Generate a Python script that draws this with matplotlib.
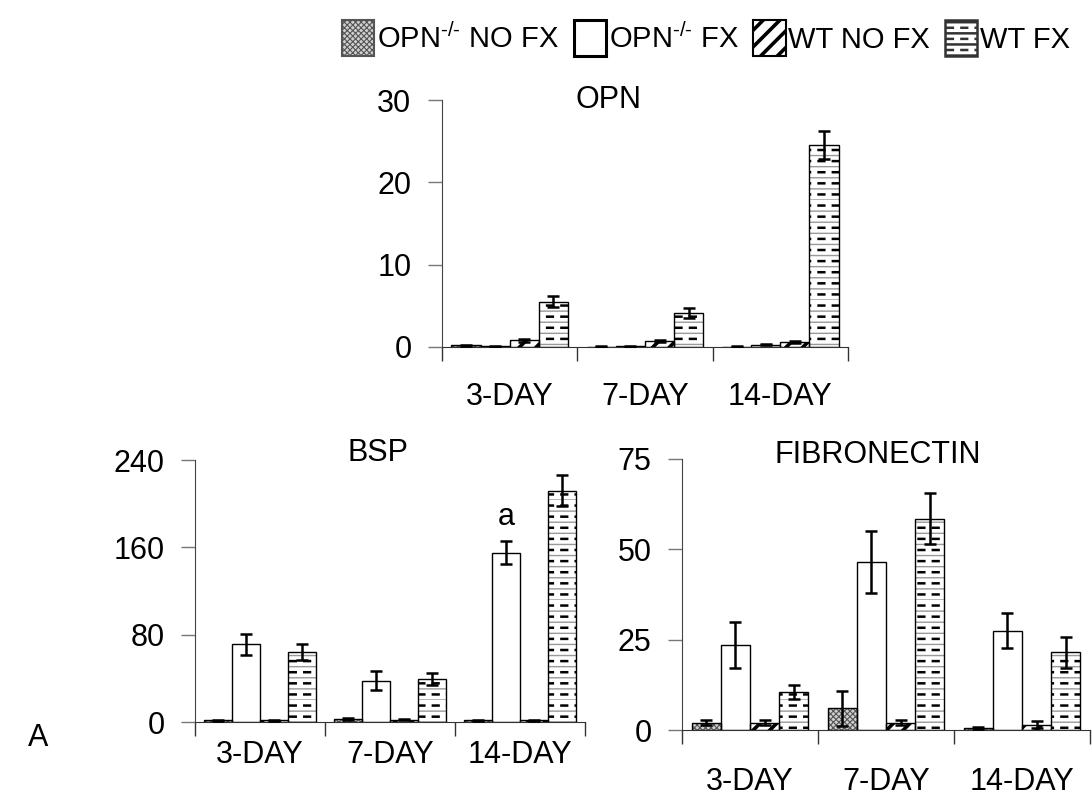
import matplotlib
matplotlib.use("Agg")
import matplotlib.pyplot as plt
import matplotlib.hatch as mhatch
import numpy as np
from matplotlib.patches import Patch, Rectangle
from matplotlib.legend_handler import HandlerPatch
from matplotlib.path import Path

plt.rcParams['font.family'] = ['Liberation Sans', 'DejaVu Sans']
plt.rcParams['mathtext.fontset'] = 'custom'
plt.rcParams['mathtext.rm'] = 'Liberation Sans'
plt.rcParams['hatch.linewidth'] = 1.0

days = ["3-DAY", "7-DAY", "14-DAY"]
groups = ["OPN$^{\\text{-/-}}$ NO FX", "OPN$^{\\text{-/-}}$ FX", "WT NO FX", "WT FX"]

# values per group (rows) for each day (columns)
opn_vals = [[0.2, 0.05, 0.05], [0.1, 0.1, 0.3], [0.8, 0.7, 0.6], [5.5, 4.1, 24.5]]
opn_errs = [[0.05, 0.02, 0.02], [0.05, 0.05, 0.1], [0.2, 0.15, 0.15], [0.7, 0.6, 1.7]]

bsp_vals = [[1.5, 2.5, 1.5], [71, 38, 155], [1.5, 2.0, 1.5], [64, 39.5, 212]]
bsp_errs = [[0.5, 0.8, 0.5], [10, 9, 10.5], [0.5, 0.6, 0.5], [7, 5.5, 14]]

fib_vals = [[2.0, 6.0, 0.5], [23.5, 46.5, 27.5], [2.0, 2.0, 1.5], [10.5, 58.5, 21.5]]
fib_errs = [[0.7, 4.8, 0.2], [6.3, 8.7, 4.8], [0.7, 0.7, 1.0], [2.0, 7.0, 4.3]]


# "WT FX" fill: thin grey rows ('-') with short black dashes between them ('|')
class GreyRows(mhatch.HatchPatternBase):
    def __init__(self, hatch, density):
        self.num_lines = 9 if hatch.count('-') else 0
        self.num_vertices = self.num_lines * 2

    def set_vertices_and_codes(self, vertices, codes):
        steps = np.linspace(0, 1, self.num_lines, endpoint=False)
        vertices[0::2, 0] = 0.0
        vertices[0::2, 1] = steps
        vertices[1::2, 0] = 1.0
        vertices[1::2, 1] = steps
        codes[0::2] = Path.MOVETO
        codes[1::2] = Path.LINETO


class DashRows(mhatch.HatchPatternBase):
    def __init__(self, hatch, density):
        self.rows = 9 if hatch.count('|') else 0
        self.per_row = 7
        self.num_vertices = self.rows * self.per_row * 2

    def set_vertices_and_codes(self, vertices, codes):
        k = 0
        for r in range(self.rows):
            y = (r + 0.5) / self.rows
            for c in range(self.per_row):
                x0 = (c + 0.3) / self.per_row
                x1 = x0 + 0.4 / self.per_row
                vertices[k] = (x0, y)
                vertices[k + 1] = (x1, y)
                codes[k] = Path.MOVETO
                codes[k + 1] = Path.LINETO
                k += 2


mhatch._hatch_types = [GreyRows if t is mhatch.HorizontalHatch else
                       DashRows if t is mhatch.VerticalHatch else t
                       for t in mhatch._hatch_types]

W = 0.215
FS = 22
HLW = {'x': 0.8, '/': 2.6, '-': 1.0, '|': 1.8}


def hatched_bar(ax, x, vals, hatch, **kw):
    with plt.rc_context({'hatch.linewidth': HLW[hatch[-1]]}):
        bars = ax.bar(x, vals, W, hatch=hatch, linewidth=0, **kw)
    for p in bars:
        if hasattr(p, 'set_hatch_linewidth'):
            p.set_hatch_linewidth(HLW[hatch[-1]])
    return bars


def draw_bars(ax, x, vals, i):
    if i == 0:
        hatched_bar(ax, x, vals, 'xxxxxx', color='#d0d0d0', edgecolor='#555555', zorder=2)
    elif i == 1:
        ax.bar(x, vals, W, color='white', linewidth=0, zorder=2)
    elif i == 2:
        hatched_bar(ax, x, vals, '//', color='white', edgecolor='black', zorder=2)
    else:
        hatched_bar(ax, x, vals, '-', color='white', edgecolor='#999999', zorder=2)
        hatched_bar(ax, x, vals, '|', fill=False, edgecolor='black', zorder=2.5)
    ax.bar(x, vals, W, fill=False, edgecolor='black', linewidth=1.0, zorder=3)


def draw_panel(ax, vals, errs, ymax, yticks, title, title_x, title_dy, xpad):
    x = np.arange(len(days))
    for i in range(4):
        off = (i - 1.5) * W
        draw_bars(ax, x + off, vals[i], i)
        ax.errorbar(x + off, vals[i], yerr=errs[i], fmt='none', ecolor='black',
                    elinewidth=1.8, capsize=4, capthick=1.8, zorder=4)
    ax.set_xlim(-0.5, 2.5)
    ax.set_ylim(0, ymax)
    ax.set_yticks(yticks)
    ax.set_xticks(x)
    ax.set_xticklabels(days)
    ax.set_xticks([-0.5, 0.5, 1.5, 2.5], minor=True)
    ax.tick_params(axis='x', which='major', length=0, pad=xpad, labelsize=FS)
    ax.tick_params(axis='x', which='minor', length=10, width=1.0, direction='out', color='#333333')
    ax.tick_params(axis='y', length=10, width=1.0, color='#777777', labelsize=FS, pad=12)
    for s in ['top', 'right']:
        ax.spines[s].set_visible(False)
    ax.spines['left'].set_color('#444444')
    ax.spines['bottom'].set_color('#333333')
    ax.annotate(title, (title_x, 1.0), xycoords='axes fraction', xytext=(0, title_dy),
                textcoords='offset pixels', ha='center', va='center', fontsize=FS)


fig = plt.figure(figsize=(10.92, 7.96), dpi=100)

ax1 = fig.add_axes([442 / 1092, 1 - 347 / 796, 406 / 1092, 247 / 796])
draw_panel(ax1, opn_vals, opn_errs, 30, [0, 10, 20, 30], "OPN", 0.41, 0, 25)

ax2 = fig.add_axes([195 / 1092, 1 - 722 / 796, 390 / 1092, 262 / 796])
draw_panel(ax2, bsp_vals, bsp_errs, 240, [0, 80, 160, 240], "BSP", 0.47, 7, 13)
ax2.text(2 - 0.5 * W, 188, "a", ha='center', va='center', fontsize=FS)

ax3 = fig.add_axes([682 / 1092, 1 - 730 / 796, 408 / 1092, 271 / 796])
draw_panel(ax3, fib_vals, fib_errs, 75, [0, 25, 50, 75], "FIBRONECTIN", 0.48, 4, 27)

fig.text(28 / 1092, 1 - 738 / 796, "A", ha='left', va='center', fontsize=FS)


# legend: each swatch is made inside an rc_context so it keeps its own hatch width
def swatch_maker(hlw):
    def make(legend, orig_handle, xdescent, ydescent, width, height, fontsize):
        with plt.rc_context({'hatch.linewidth': hlw}):
            r = Rectangle((-xdescent, -ydescent), width, height)
        return r
    return make


leg_specs = [('xxxxxx', '#d0d0d0', '#555555', 1.5),
             ('', 'white', 'black', 2.2),
             ('//', 'white', 'black', 1.5),
             ('-|', 'white', '#333333', 1.8)]
handles = []
hmap = {}
for h, fc, ec, lw in leg_specs:
    p = Patch(facecolor=fc, edgecolor=ec, hatch=h, linewidth=lw)
    handles.append(p)
    hmap[p] = HandlerPatch(patch_func=swatch_maker(HLW[h[-1]] if h else 1.0))

leg = fig.legend(handles, groups, loc='center', bbox_to_anchor=(706 / 1092, 1 - 38 / 796),
                 ncol=4, frameon=False, fontsize=21, handlelength=1.1, handleheight=1.5,
                 handletextpad=0.1, columnspacing=0.5, borderpad=0.1, handler_map=hmap)
for p, (h, fc, ec, lw) in zip(leg.get_patches(), leg_specs):
    if hasattr(p, 'set_hatch_linewidth'):
        p.set_hatch_linewidth(HLW[h[-1]] if h else 1.0)

fig.savefig("out.png", dpi=100)
